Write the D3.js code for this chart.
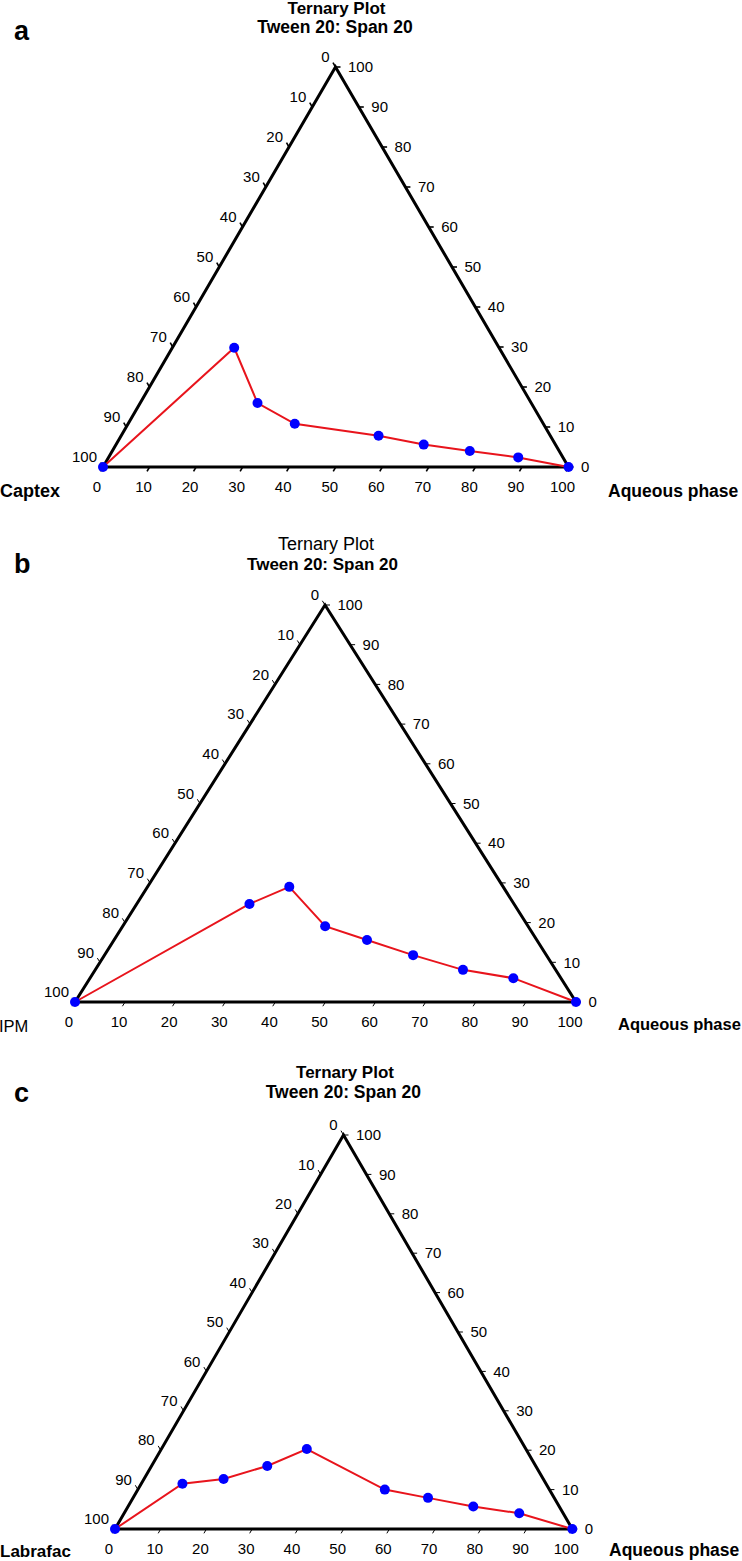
<!DOCTYPE html>
<html>
<head>
<meta charset="utf-8">
<script src="https://cdn.jsdelivr.net/npm/d3@7"></script>
<style>
  html, body { margin: 0; padding: 0; background: #fff; }
  svg { display: block; font-family: "Liberation Sans", Arial, Helvetica, sans-serif; }
</style>
</head>
<body>
<svg id="chart" width="742" height="1561"></svg>
<script>
// ---------------- data ----------------
const panelLetters = ["a", "b", "c"];
const chartTitle = "Ternary Plot";
const chartSubtitle = "Tween 20: Span 20";
const oilNames = ["Captex", "IPM", "Labrafac"];
const aqueousName = "Aqueous phase";
const tickValues = [0, 10, 20, 30, 40, 50, 60, 70, 80, 90, 100];

// composition of each boundary point (% aqueous phase, % Smix); oil = 100 - both
const aqueousA = [0, 13.3, 25.2, 35.8, 55.3, 66.1, 76.8, 88.0, 100];
const smixA    = [0, 29.8, 16.0, 10.8, 7.8, 5.6, 4.0, 2.4, 0];

const aqueousB = [0, 22.5, 28.3, 40.4, 50.5, 61.6, 73.4, 84.5, 100];
const smixB    = [0, 24.7, 29.0, 19.1, 15.6, 11.8, 8.1, 6.0, 0];

const aqueousC = [0, 9.0, 17.4, 25.3, 31.8, 54.0, 64.5, 75.5, 86.4, 100];
const smixC    = [0, 11.5, 12.7, 16.0, 20.3, 10.0, 7.9, 5.7, 4.0, 0];

// ---------------- layout ----------------
const layouts = [
  { bl: [103, 467], br: [568.5, 467], apex: [335.5, 67],
    titleX: 336.5, titleY: 13.5, titleBold: true, titleSize: 17,
    subX: 335, subY: 32.5, subSize: 17.5,
    letterY: 40,
    oilX: 0, oilY: 497, oilBold: true, oilSize: 18,
    aqX: 608, aqY: 497, aqSize: 17.5, tickBold: true },
  { bl: [75, 1002], br: [576, 1002], apex: [325, 605],
    titleX: 326, titleY: 550, titleBold: false, titleSize: 18,
    subX: 322.5, subY: 570, subSize: 17,
    letterY: 573,
    oilX: -1, oilY: 1032, oilBold: false, oilSize: 16.5,
    aqX: 618, aqY: 1030, aqSize: 16.5, tickBold: false },
  { bl: [115, 1529], br: [572.3, 1529], apex: [343.5, 1135],
    titleX: 345, titleY: 1078, titleBold: true, titleSize: 17,
    subX: 343.3, subY: 1098, subSize: 17.5,
    letterY: 1102,
    oilX: 0, oilY: 1557, oilBold: true, oilSize: 17,
    aqX: 609, aqY: 1556, aqSize: 17.5, tickBold: false }
];

const seriesAq = [aqueousA, aqueousB, aqueousC];
const seriesSm = [smixA, smixB, smixC];

const svg = d3.select("#chart");

layouts.forEach((L, i) => {
  const g = svg.append("g");
  // barycentric scales: each component % -> weight
  const w = d3.scaleLinear().domain([0, 100]).range([0, 1]);
  const proj = (aq, sm) => {
    const a = w(aq), s = w(sm), o = 1 - a - s;
    return [o * L.bl[0] + a * L.br[0] + s * L.apex[0],
            o * L.bl[1] + a * L.br[1] + s * L.apex[1]];
  };
  const unit = (p, q) => {
    const dx = q[0] - p[0], dy = q[1] - p[1], n = Math.hypot(dx, dy);
    return [dx / n, dy / n];
  };
  const dirLeft = unit(L.br, L.apex);   // tick direction on oil axis (up-left)
  const dirBottom = unit(L.apex, L.bl); // tick direction on aqueous axis (down-left)
  const tl = 5;

  // triangle
  g.append("path")
    .attr("d", d3.line()([L.bl, L.br, L.apex]) + "Z")
    .attr("fill", "none").attr("stroke", "#000")
    .attr("stroke-width", 3).attr("stroke-linejoin", "miter");

  const tickG = g.append("g").attr("stroke", "#000")
    .attr("stroke-width", L.tickBold ? 1.6 : 1);
  const labG = g.append("g").attr("font-size", 15).attr("fill", "#000");

  tickValues.forEach(v => {
    // left axis: oil %, 0 at apex -> 100 at bottom-left
    const pL = proj(0, 100 - v);
    tickG.append("line").attr("x1", pL[0]).attr("y1", pL[1])
      .attr("x2", pL[0] + dirLeft[0] * tl).attr("y2", pL[1] + dirLeft[1] * tl);
    labG.append("text").attr("x", pL[0] - 6).attr("y", pL[1] - 10)
      .attr("text-anchor", "end").attr("dy", "0.35em").text(v);

    // right axis: Smix %, 0 at bottom-right -> 100 at apex
    const pR = proj(100 - v, v);
    tickG.append("line").attr("x1", pR[0]).attr("y1", pR[1])
      .attr("x2", pR[0] + tl).attr("y2", pR[1]);
    labG.append("text").attr("x", pR[0] + 12.5).attr("y", pR[1])
      .attr("text-anchor", "start").attr("dy", "0.35em").text(v);

    // bottom axis: aqueous %, 0 at bottom-left -> 100 at bottom-right
    const pB = proj(v, 0);
    tickG.append("line").attr("x1", pB[0]).attr("y1", pB[1])
      .attr("x2", pB[0] + dirBottom[0] * tl).attr("y2", pB[1] + dirBottom[1] * tl);
    labG.append("text").attr("x", pB[0] - 6).attr("y", pB[1] + 25)
      .attr("text-anchor", "middle").text(v);
  });

  // data line + points
  const pts = seriesAq[i].map((aq, k) => proj(aq, seriesSm[i][k]));
  g.append("path").attr("d", d3.line()(pts))
    .attr("fill", "none").attr("stroke", "#e8141c").attr("stroke-width", 2);
  g.selectAll("circle.pt").data(pts).enter().append("circle")
    .attr("cx", d => d[0]).attr("cy", d => d[1]).attr("r", 5)
    .attr("fill", "#0000ff");

  // titles
  g.append("text").attr("x", L.titleX).attr("y", L.titleY)
    .attr("text-anchor", "middle").attr("font-size", L.titleSize)
    .attr("font-weight", L.titleBold ? "bold" : "normal").text(chartTitle);
  g.append("text").attr("x", L.subX).attr("y", L.subY)
    .attr("text-anchor", "middle").attr("font-size", L.subSize)
    .attr("font-weight", "bold").text(chartSubtitle);
  g.append("text").attr("x", 14).attr("y", L.letterY)
    .attr("font-size", 27).attr("font-weight", "bold").text(panelLetters[i]);

  // vertex names
  g.append("text").attr("x", L.oilX).attr("y", L.oilY)
    .attr("font-size", L.oilSize).attr("font-weight", L.oilBold ? "bold" : "normal")
    .text(oilNames[i]);
  g.append("text").attr("x", L.aqX).attr("y", L.aqY)
    .attr("font-size", L.aqSize).attr("font-weight", "bold").text(aqueousName);
});
</script>
</body>
</html>
